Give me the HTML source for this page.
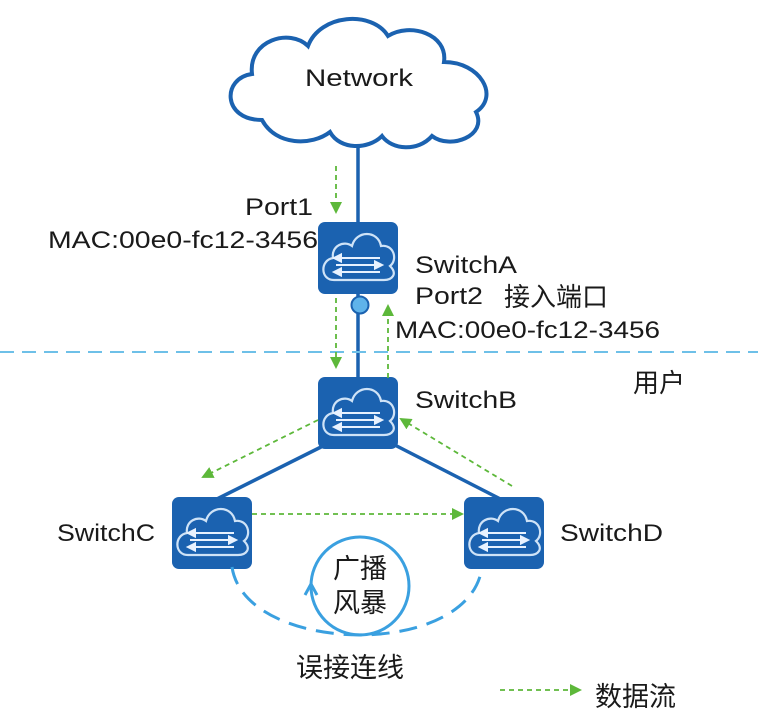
<!DOCTYPE html>
<html><head><meta charset="utf-8"><style>
body{margin:0;background:#fff;}
svg{display:block;}
text{font-family:"Liberation Sans","Noto Sans CJK SC",sans-serif;fill:#1a1a1a;}
</style></head><body>
<svg width="758" height="718" viewBox="0 0 758 718" xmlns="http://www.w3.org/2000/svg">
<defs>
<marker id="ga" markerWidth="12" markerHeight="12" refX="10" refY="6" orient="auto" markerUnits="userSpaceOnUse">
<path d="M0,0 L12,6 L0,12 z" fill="#5db83a"/></marker>
<g id="sw">
<rect x="0" y="0" width="80" height="72" rx="7" fill="#1b62b0"/>
<path d="M16,58 C2,58 2,38 15,36 C13,24 26,18 34,24 C38,8 60,8 63,24 C76,22 80,38 72,44 C80,52 74,58 66,58 Z" fill="none" stroke="#cfe3f7" stroke-width="2.2"/>
<g stroke="#e8f2ff" stroke-width="2" fill="#e8f2ff">
<line x1="20" y1="36" x2="62" y2="36"/><path d="M16,36 l7,-3.5 v7z"/>
<line x1="18" y1="43" x2="58" y2="43"/><path d="M64,43 l-7,-3.5 v7z"/>
<line x1="20" y1="50" x2="62" y2="50"/><path d="M16,50 l7,-3.5 v7z"/>
</g></g>
</defs>
<path d="M262,120 C222,120 222,78 252,74 C248,40 290,28 308,46 C320,14 372,10 388,36 C410,22 448,34 444,62 C480,62 500,96 476,112 C488,136 450,150 432,136 C418,152 392,150 382,136 C368,150 340,150 330,132 C312,146 276,146 262,120 Z" fill="#fff" stroke="#1b62b0" stroke-width="4"/>
<text x="305" y="86" font-size="24" textLength="108" lengthAdjust="spacingAndGlyphs">Network</text>
<g stroke="#1b62b0" stroke-width="3.5" fill="none">
<line x1="358" y1="146" x2="358" y2="224"/>
<line x1="358" y1="294" x2="358" y2="380"/>
<line x1="335" y1="440" x2="205" y2="505"/>
<line x1="385" y1="440" x2="512" y2="505"/>
</g>
<circle cx="360" cy="305" r="8.5" fill="#5fb3ea" stroke="#1b62b0" stroke-width="2"/>
<line x1="0" y1="352" x2="758" y2="352" stroke="#6ec0e8" stroke-width="2" stroke-dasharray="14,8"/>
<use href="#sw" x="318" y="222"/>
<use href="#sw" x="318" y="377"/>
<use href="#sw" x="172" y="497"/>
<use href="#sw" x="464" y="497"/>
<g stroke="#5db83a" stroke-width="1.8" stroke-dasharray="5,4" fill="none" marker-end="url(#ga)">
<line x1="336" y1="166" x2="336" y2="212"/>
<line x1="336" y1="298" x2="336" y2="367"/>
<line x1="388" y1="378" x2="388" y2="306"/>
<line x1="318" y1="420" x2="203" y2="477"/>
<line x1="512" y1="486" x2="401" y2="419"/>
<line x1="252" y1="514" x2="462" y2="514"/>
<line x1="500" y1="690" x2="580" y2="690"/>
</g>
<path d="M232,567 C245,655 470,660 482,567" fill="none" stroke="#3aa0e0" stroke-width="3" stroke-dasharray="18,10"/>
<circle cx="360" cy="586" r="49" fill="none" stroke="#3aa0e0" stroke-width="3"/>
<path d="M305,595 l6,-11 l6,11" fill="none" stroke="#3aa0e0" stroke-width="3"/>
<g font-size="24">
<text x="245" y="215" textLength="68" lengthAdjust="spacingAndGlyphs">Port1</text>
<text x="48" y="248" textLength="270" lengthAdjust="spacingAndGlyphs">MAC:00e0-fc12-3456</text>
<text x="415" y="273" textLength="102" lengthAdjust="spacingAndGlyphs">SwitchA</text>
<text x="415" y="304" textLength="68" lengthAdjust="spacingAndGlyphs">Port2</text>
<text x="504" y="306" font-size="26">接入端口</text>
<text x="395" y="338" textLength="265" lengthAdjust="spacingAndGlyphs">MAC:00e0-fc12-3456</text>
<text x="633" y="392" font-size="26">用户</text>
<text x="415" y="408" textLength="102" lengthAdjust="spacingAndGlyphs">SwitchB</text>
<text x="57" y="541" textLength="98" lengthAdjust="spacingAndGlyphs">SwitchC</text>
<text x="560" y="541" textLength="103" lengthAdjust="spacingAndGlyphs">SwitchD</text>
<text x="333" y="578" font-size="27">广播</text>
<text x="333" y="612" font-size="27">风暴</text>
<text x="296" y="677" font-size="27">误接连线</text>
<text x="595" y="706" font-size="27">数据流</text>
</g>
</svg>
</body></html>
